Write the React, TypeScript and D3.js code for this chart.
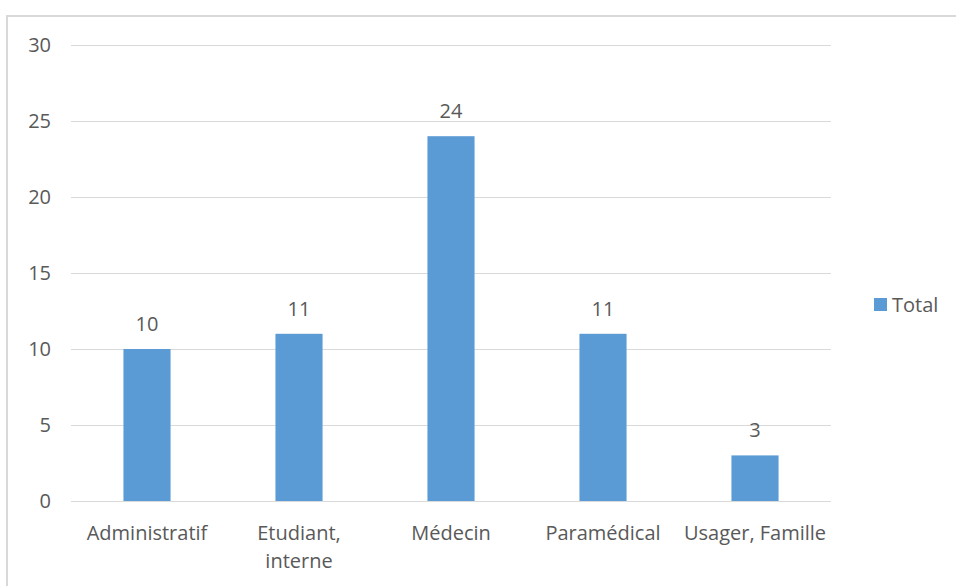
import React, { useEffect, useRef } from "react";
import * as d3 from "d3";

const categories = ["Administratif", "Etudiant, interne", "Médecin", "Paramédical", "Usager, Famille"];
const totals = [10, 11, 24, 11, 3];
const yTicks = [0, 5, 10, 15, 20, 25, 30];
const seriesName = "Total";

const WIDTH = 956;
const HEIGHT = 586;
const FONT = "'Open Sans', 'Noto Sans', sans-serif";
const FONT_SIZE = 20;
const TEXT_COLOR = "#595959";
const GRID_COLOR = "#d9d9d9";
const BAR_COLOR = "#5b9bd5";

function wrapLabel(textSel: d3.Selection<SVGTextElement, string, any, any>, maxWidth: number) {
  textSel.each(function (d) {
    const text = d3.select(this);
    const words = d.split(" ");
    const x = text.attr("x");
    text.text(null);
    let line: string[] = [];
    let tspan = text.append("tspan").attr("x", x).attr("dy", 0);
    words.forEach((w) => {
      line.push(w);
      tspan.text(line.join(" "));
      if ((tspan.node() as SVGTSpanElement).getComputedTextLength() > maxWidth && line.length > 1) {
        line.pop();
        tspan.text(line.join(" "));
        line = [w];
        tspan = text.append("tspan").attr("x", x).attr("dy", 28).text(w);
      }
    });
  });
}

export default function App() {
  const ref = useRef<SVGSVGElement>(null);

  useEffect(() => {
    document.body.style.margin = "0";
    const svg = d3.select(ref.current);
    svg.selectAll("*").remove();

    const x = d3.scaleBand().domain(categories).range([71, 831]).paddingInner(0.69).paddingOuter(0.345);
    const y = d3.scaleLinear().domain([0, 30]).range([501, 45]);

    // chart border (only left + top visible in the crop)
    svg
      .append("rect")
      .attr("x", 7)
      .attr("y", 16)
      .attr("width", 1000)
      .attr("height", 700)
      .attr("fill", "none")
      .attr("stroke", GRID_COLOR)
      .attr("stroke-width", 2);

    // gridlines
    svg
      .append("g")
      .selectAll("line")
      .data(yTicks)
      .enter()
      .append("line")
      .attr("x1", 71)
      .attr("x2", 831)
      .attr("y1", (d) => y(d) + 0.5)
      .attr("y2", (d) => y(d) + 0.5)
      .attr("stroke", GRID_COLOR)
      .attr("stroke-width", 1);

    // y tick labels
    svg
      .append("g")
      .selectAll("text")
      .data(yTicks)
      .enter()
      .append("text")
      .attr("x", 51)
      .attr("y", (d) => y(d))
      .attr("dy", "0.35em")
      .attr("text-anchor", "end")
      .attr("font-family", FONT)
      .attr("font-size", FONT_SIZE)
      .attr("fill", TEXT_COLOR)
      .text((d) => d);

    // bars
    svg
      .append("g")
      .selectAll("rect")
      .data(totals)
      .enter()
      .append("rect")
      .attr("x", (d, i) => x(categories[i])!)
      .attr("width", x.bandwidth())
      .attr("y", (d) => y(d))
      .attr("height", (d) => y(0) - y(d))
      .attr("fill", BAR_COLOR);

    // value labels
    svg
      .append("g")
      .selectAll("text")
      .data(totals)
      .enter()
      .append("text")
      .attr("x", (d, i) => x(categories[i])! + x.bandwidth() / 2)
      .attr("y", (d) => y(d) - 18)
      .attr("text-anchor", "middle")
      .attr("font-family", FONT)
      .attr("font-size", FONT_SIZE)
      .attr("fill", TEXT_COLOR)
      .text((d) => d);

    // category labels
    const labels = svg
      .append("g")
      .selectAll("text")
      .data(categories)
      .enter()
      .append("text")
      .attr("x", (d) => x(d)! + x.bandwidth() / 2)
      .attr("y", 540)
      .attr("text-anchor", "middle")
      .attr("font-family", FONT)
      .attr("font-size", FONT_SIZE)
      .attr("fill", TEXT_COLOR)
      .text((d) => d);
    wrapLabel(labels as any, x.step());

    // legend
    const legend = svg.append("g");
    legend
      .append("rect")
      .attr("x", 874)
      .attr("y", 298)
      .attr("width", 13)
      .attr("height", 13)
      .attr("fill", BAR_COLOR);
    legend
      .append("text")
      .attr("x", 892)
      .attr("y", 312)
      .attr("font-family", FONT)
      .attr("font-size", FONT_SIZE)
      .attr("fill", TEXT_COLOR)
      .text(seriesName);
  }, []);

  return <svg ref={ref} width={WIDTH} height={HEIGHT} style={{ display: "block", background: "#fff" }} />;
}
